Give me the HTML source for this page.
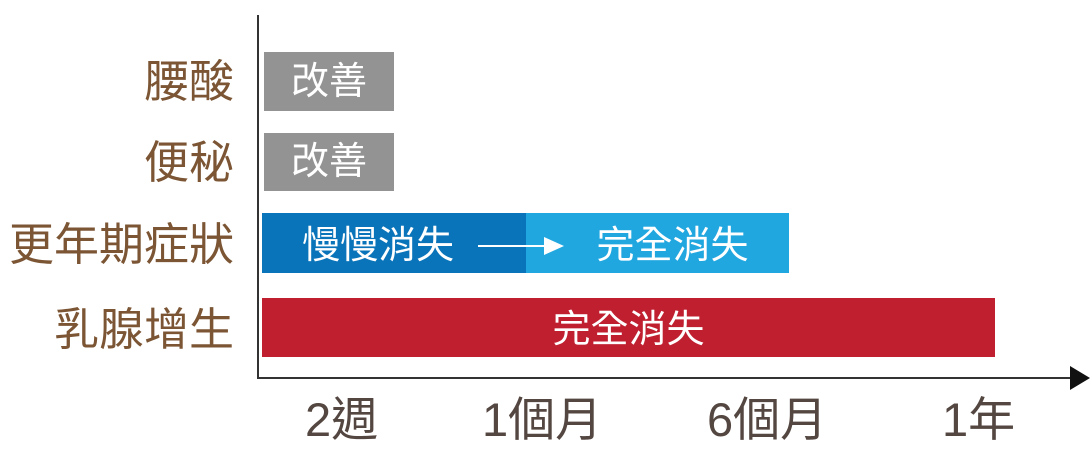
<!DOCTYPE html>
<html><head><meta charset="utf-8"><style>
body{margin:0;width:1090px;height:459px;background:#fff;position:relative;overflow:hidden;font-family:"Liberation Sans","Noto Sans CJK TC",sans-serif;}
.a{position:absolute}
.lab{position:absolute;color:#7b5534;font-size:45px;text-align:right;right:856px;line-height:1;white-space:nowrap}
.bar{position:absolute;color:#fff;font-size:38px;line-height:1;display:flex;align-items:center;justify-content:center;white-space:nowrap}
.t{position:absolute;color:#544640;font-size:47px;line-height:1;white-space:nowrap}
</style></head><body>
<div class="a" style="left:257px;top:15px;width:2px;height:364px;background:#333"></div>
<div class="a" style="left:257px;top:377px;width:818px;height:2px;background:#333"></div>
<div class="a" style="left:1070px;top:366px;width:0;height:0;border-left:20px solid #111;border-top:12px solid transparent;border-bottom:12px solid transparent"></div>

<div class="lab" style="top:59px">腰酸</div>
<div class="lab" style="top:140px">便秘</div>
<div class="lab" style="top:222px">更年期症狀</div>
<div class="lab" style="top:307px">乳腺增生</div>

<div class="bar" style="left:264px;top:52px;width:130px;height:59px;background:#939393">改善</div>
<div class="bar" style="left:264px;top:133px;width:130px;height:58px;background:#939393">改善</div>
<div class="bar" style="left:262px;top:213px;width:264px;height:60px;background:#0a74ba;justify-content:flex-start;padding-left:40px;box-sizing:border-box;padding-top:6px">慢慢消失</div>
<div class="bar" style="left:526px;top:213px;width:263px;height:60px;background:#21a7e0;padding-left:30px;box-sizing:border-box;padding-top:6px">完全消失</div>
<div class="a" style="left:478px;top:245px;width:68px;height:2px;background:#fff"></div>
<div class="a" style="left:544px;top:237px;width:0;height:0;border-left:20px solid #fff;border-top:9px solid transparent;border-bottom:9px solid transparent"></div>
<div class="bar" style="left:262px;top:298px;width:733px;height:59px;background:#c01f30;padding-top:4px;box-sizing:border-box">完全消失</div>

<div class="t" style="left:305px;top:396px">2週</div>
<div class="t" style="left:482px;top:396px">1個月</div>
<div class="t" style="left:707px;top:396px">6個月</div>
<div class="t" style="left:942px;top:396px">1年</div>
</body></html>
